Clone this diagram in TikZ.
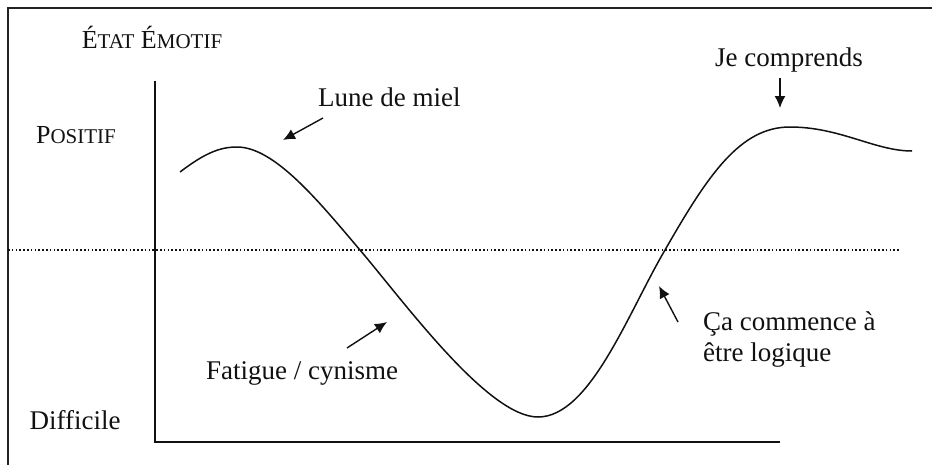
\documentclass[tikz,border=0pt]{standalone}
\usepackage{fontspec}
\setmainfont{Liberation Serif}
\usepackage{xcolor}
\usepackage{tikz}
\usetikzlibrary{arrows.meta}
\definecolor{inkblack}{HTML}{111111}
\definecolor{framegray}{HTML}{222222}
\newcommand{\fakesc}[2]{#1{\fontsize{21}{26}\selectfont #2}}

\begin{document}
\begin{tikzpicture}[
    x=1pt, y=-1pt,
    lbl/.style={font=\fontsize{27}{31}\selectfont\color{inkblack}, inner sep=0pt},
    caplbl/.style={font=\fontsize{26}{31}\selectfont\color{inkblack}, inner sep=0pt},
    axis/.style={draw=inkblack, line width=1.6pt},
    mood/.style={draw=inkblack, line width=1.5pt},
    pointer/.style={draw=inkblack, line width=1.4pt, -{Latex[length=12pt,width=11pt]}}
  ]
  \useasboundingbox (0,0) rectangle (932,464);
  \clip (0,0) rectangle (932,464);
  % frame of the picture
  \draw[framegray, line width=2pt] (8,8) rectangle (950,480);

  % axes and neutral line
  \coordinate (ytop) at (155,81);
  \coordinate (origin) at (155,442);
  \coordinate (xend) at (780,442);
  \draw[axis] (ytop) -- (origin) -- (xend);
  \coordinate (neutralL) at (8,250);
  \coordinate (neutralR) at (900,250);
  \draw[inkblack, line width=1.6pt, dash pattern=on 1.6pt off 2.2pt] (neutralL) -- (neutralR);

  % labels
  \node[caplbl] (etat) at (152,37) {\fakesc{É}{TAT} \fakesc{É}{MOTIF}};
  \node[caplbl] (positif) at (76,135) {\fakesc{P}{OSITIF}};
  \node[lbl] (difficile) at (75,420) {Difficile};
  \node[lbl, anchor=west] (lune) at (318,97) {Lune de miel};
  \node[lbl] (comprends) at (789,60) {Je comprends};
  \node[lbl] (fatigue) at (302,373) {Fatigue / cynisme};
  \node[lbl, anchor=west, align=left] (logique) at (703,340)
    {Ça commence à\\être logique};

  % the mood curve
  \coordinate (start) at (180,172);
  \coordinate (peakA) at (237,147);
  \coordinate (fallX) at (360,250);
  \coordinate (bottom) at (538,417);
  \coordinate (riseX) at (665,250);
  \coordinate (peakB) at (790,127);
  \coordinate (finish) at (912,151);
  \draw[mood] (start) .. controls (205,153) and (220,147) .. (peakA)
    .. controls (275,147) and (320,203) .. (fallX)
    .. controls (405,303) and (488,417) .. (bottom)
    .. controls (590,417) and (628,313) .. (riseX)
    .. controls (708,175) and (740,127) .. (peakB)
    .. controls (840,127) and (875,151) .. (finish);

  % pointers
  \coordinate (luneA) at (323,118);
  \coordinate (luneB) at (283,140);
  \draw[pointer] (luneA) -- (luneB);
  \coordinate (compA) at (780,78);
  \coordinate (compB) at (780,108);
  \draw[pointer] (compA) -- (compB);
  \coordinate (fatA) at (347,348);
  \coordinate (fatB) at (387,322);
  \draw[pointer] (fatA) -- (fatB);
  \coordinate (logA) at (678,322);
  \coordinate (logB) at (659,286);
  \draw[pointer] (logA) -- (logB);
\end{tikzpicture}
\end{document}
